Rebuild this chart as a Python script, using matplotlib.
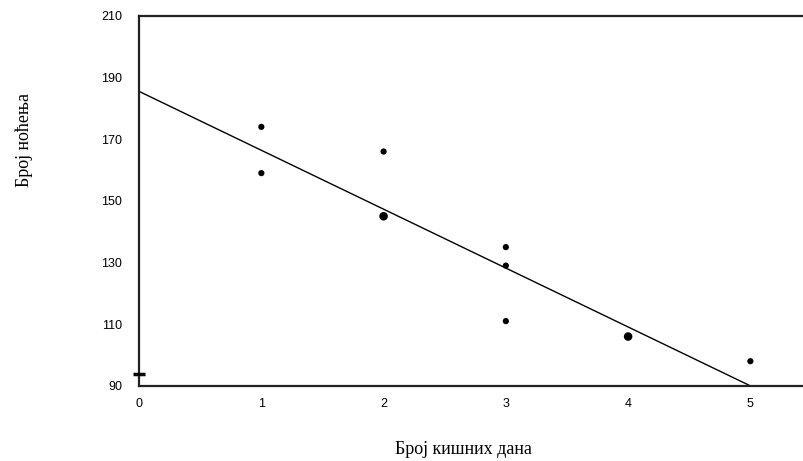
import matplotlib.pyplot as plt
from collections import Counter

# rainy days vs. overnight stays (duplicated points appear twice)
rain_days = [1, 1, 2, 2, 2, 3, 3, 3, 4, 4, 5]
stays = [174, 159, 166, 145, 145, 135, 129, 111, 106, 106, 98]

# regression line endpoints
fit_x = [0, 5]
fit_y = [185.5, 90.0]

# the small mark sitting on the y axis
axis_mark_x = [0]
axis_mark_y = [94]

x_ticks = [0, 1, 2, 3, 4, 5]
y_ticks = [90, 110, 130, 150, 170, 190, 210]

counts = Counter(zip(rain_days, stays))
pts = list(counts.keys())
px = [p[0] for p in pts]
py = [p[1] for p in pts]
sizes = [20 if counts[p] == 1 else 38 for p in pts]

fig = plt.figure(figsize=(8.04, 4.61), dpi=100)
ax = fig.add_axes([0.173, 0.163, 0.85, 0.8026])

ax.plot(fit_x, fit_y, color="black", lw=1.0)
ax.scatter(px, py, s=sizes, color="black", marker="o", zorder=3, linewidths=0)
ax.plot(axis_mark_x, axis_mark_y, marker="_", color="black", markersize=9,
        mew=2.5, clip_on=False, zorder=4)

ax.set_xlim(0, 5.59)
ax.set_ylim(90, 210)
ax.set_xticks(x_ticks)
ax.set_yticks(y_ticks)

tick_font = ["Liberation Sans Narrow", "Liberation Sans", "DejaVu Sans"]
for lab in ax.get_xticklabels() + ax.get_yticklabels():
    lab.set_family(tick_font)
    lab.set_fontsize(9)
ax.tick_params(axis="both", length=0)
ax.tick_params(axis="y", pad=12)
ax.tick_params(axis="x", pad=9)

for side in ["left", "bottom", "top", "right"]:
    ax.spines[side].set_linewidth(1.6)
    ax.spines[side].set_color("#222222")

fig.text(0.576, 0.026, "Број кишних дана", family="Liberation Serif",
         fontsize=13, ha="center", va="center")
fig.text(0.030, 0.696, "Број ноћења", family="Liberation Serif",
         fontsize=13, ha="center", va="center", rotation=90)

plt.savefig("out.png", dpi=100)
